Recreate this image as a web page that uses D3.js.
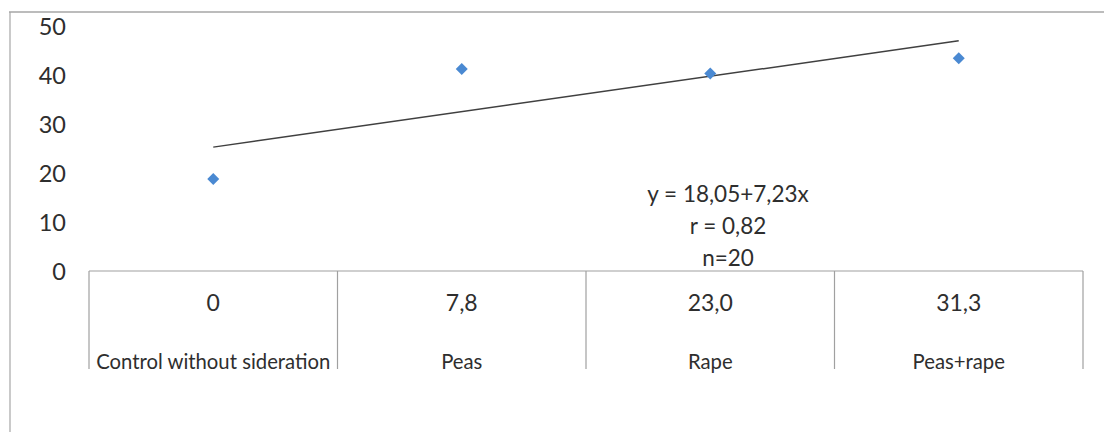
<!DOCTYPE html>
<html>
<head>
<meta charset="utf-8">
<script src="https://cdn.jsdelivr.net/npm/d3@7/dist/d3.min.js"></script>
<style>
  html, body { margin: 0; padding: 0; background: #fff; }
  svg { display: block; }
  text { font-family: Lato, "Open Sans", sans-serif; fill: #2e2e2e; }
</style>
</head>
<body>
<svg id="chart" width="1104" height="432"></svg>
<script>
// ---- data ----
const categories = ["Control without sideration", "Peas", "Rape", "Peas+rape"];
const siderateValues = ["0", "7,8", "23,0", "31,3"];
const yieldValues = [18.8, 41.2, 40.3, 43.4];
const yTicks = [0, 10, 20, 30, 40, 50];
const trendIntercept = 18.05;
const trendSlope = 7.23;
const statsLines = ["y = 18,05+7,23x", "r = 0,82", "n=20"];

// ---- layout ----
const W = 1104, H = 432;
const plotLeft = 89, plotRight = 1083, plotTop = 26, plotBase = 271;
const tableBottom = 369;

const svg = d3.select("#chart");

// outer frame (top + left border)
svg.append("line").attr("x1", 9).attr("x2", W).attr("y1", 12).attr("y2", 12)
  .attr("stroke", "#a6a6a6").attr("stroke-width", 1.5);
svg.append("line").attr("x1", 10).attr("x2", 10).attr("y1", 12).attr("y2", H)
  .attr("stroke", "#a6a6a6").attr("stroke-width", 1.2);

const x = d3.scaleBand().domain(categories).range([plotLeft, plotRight]).padding(0);
const y = d3.scaleLinear().domain([0, 50]).range([plotBase, plotTop]);

// y axis (labels only)
const yAxis = svg.append("g").attr("transform", `translate(${plotLeft},0)`)
  .call(d3.axisLeft(y).tickValues(yTicks).tickSize(0).tickPadding(23).tickFormat(d3.format("d")));
yAxis.select(".domain").remove();
yAxis.selectAll("text").style("font-family", "Lato, sans-serif").style("font-size", "23.5px")
  .attr("fill", "#2e2e2e").attr("dy", "0.36em");

// table under the plot
const tbl = svg.append("g");
tbl.append("line").attr("x1", plotLeft).attr("x2", plotRight).attr("y1", plotBase).attr("y2", plotBase)
  .attr("stroke", "#a0a0a0").attr("stroke-width", 1.2);
const edges = categories.map(c => x(c)).concat([x(categories[categories.length - 1]) + x.bandwidth()]);
tbl.selectAll("line.v").data(edges).join("line").attr("class", "v")
  .attr("x1", d => d).attr("x2", d => d).attr("y1", plotBase).attr("y2", tableBottom)
  .attr("stroke", "#a0a0a0").attr("stroke-width", 1.2);
tbl.selectAll("text.val").data(categories).join("text").attr("class", "val")
  .attr("x", d => x(d) + x.bandwidth() / 2).attr("y", 302)
  .attr("text-anchor", "middle").attr("dominant-baseline", "central")
  .style("font-size", "23px")
  .text((d, i) => siderateValues[i]);
tbl.selectAll("text.cat").data(categories).join("text").attr("class", "cat")
  .attr("x", d => x(d) + x.bandwidth() / 2).attr("y", 369)
  .attr("text-anchor", "middle")
  .style("font-size", "20.3px")
  .text(d => d);

// trend line
const trendX = [1, categories.length];
svg.append("line")
  .attr("x1", x(categories[0]) + x.bandwidth() / 2)
  .attr("y1", y(trendIntercept + trendSlope * trendX[0]))
  .attr("x2", x(categories[categories.length - 1]) + x.bandwidth() / 2)
  .attr("y2", y(trendIntercept + trendSlope * trendX[1]))
  .attr("stroke", "#404040").attr("stroke-width", 1.5);

// diamond markers (square rotated 45°)
svg.selectAll("path.pt").data(yieldValues).join("path").attr("class", "pt")
  .attr("transform", (d, i) => `translate(${x(categories[i]) + x.bandwidth() / 2},${y(d)}) rotate(45)`)
  .attr("d", d3.symbol().type(d3.symbolSquare).size(72))
  .attr("fill", "#4a89d2");

// stats annotation
svg.append("g").selectAll("text").data(statsLines).join("text")
  .attr("x", 728).attr("y", (d, i) => 193 + i * 32)
  .attr("text-anchor", "middle").attr("dominant-baseline", "central")
  .style("font-size", "22.5px")
  .text(d => d);
</script>
</body>
</html>
